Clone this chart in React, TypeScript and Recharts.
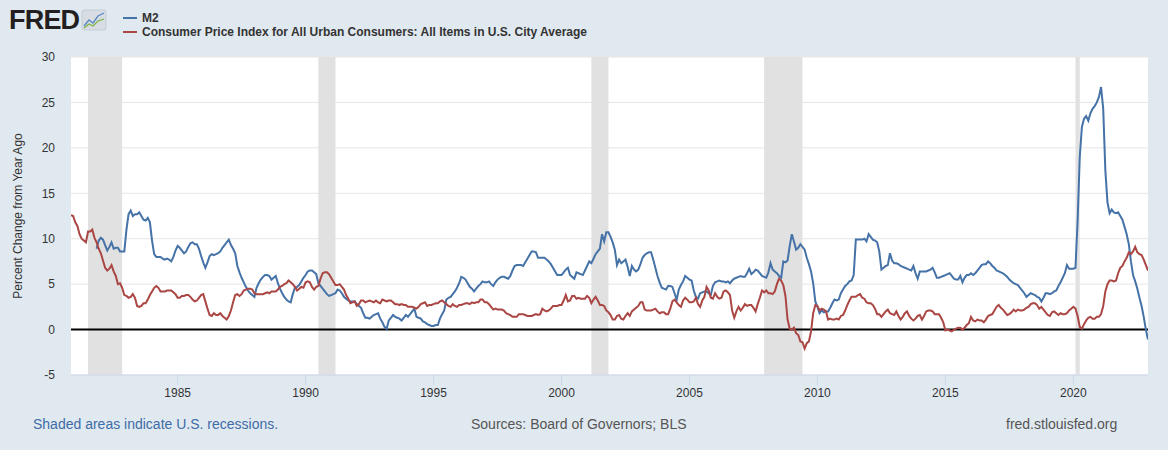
import {
  LineChart,
  Line,
  XAxis,
  YAxis,
  CartesianGrid,
  ReferenceArea,
  ReferenceLine,
  Label,
} from "recharts";

// Monthly series, first value = Nov 1980, last value = Dec 2022
const START = 1980 + 10 / 12;

// CPI, percent change from year ago
const cpiYoY: number[] = [
  12.6, 12.5, // 1980 Nov-Dec
  11.8, 11.4, 10.5, 10.0, 9.8, 9.6, 10.8, 10.8, 11.0, 10.1, 9.6, 8.9, // 1981
  8.4, 7.6, 6.8, 6.5, 6.7, 7.1, 6.4, 5.9, 5.0, 5.1, 4.6, 3.8, // 1982
  3.7, 3.5, 3.6, 3.9, 3.5, 2.6, 2.5, 2.6, 2.9, 2.9, 3.3, 3.8, // 1983
  4.2, 4.6, 4.8, 4.6, 4.2, 4.2, 4.2, 4.3, 4.3, 4.3, 4.1, 3.9, // 1984
  3.5, 3.5, 3.7, 3.7, 3.8, 3.8, 3.6, 3.3, 3.1, 3.2, 3.5, 3.8, // 1985
  3.9, 3.1, 2.3, 1.6, 1.5, 1.8, 1.6, 1.6, 1.8, 1.5, 1.3, 1.1, // 1986
  1.5, 2.1, 3.0, 3.8, 3.9, 3.7, 3.9, 4.3, 4.4, 4.5, 4.5, 4.4, // 1987
  4.0, 3.9, 3.9, 3.9, 3.9, 4.0, 4.1, 4.0, 4.2, 4.2, 4.2, 4.4, // 1988
  4.7, 4.8, 5.0, 5.1, 5.4, 5.2, 5.0, 4.7, 4.3, 4.5, 4.7, 4.6, // 1989
  5.2, 5.3, 5.2, 4.7, 4.4, 4.7, 4.8, 5.6, 6.2, 6.3, 6.3, 6.1, // 1990
  5.7, 5.3, 4.9, 4.9, 5.0, 4.7, 4.4, 3.8, 3.4, 2.9, 3.0, 3.1, // 1991
  2.6, 2.8, 3.2, 3.2, 3.0, 3.1, 3.2, 3.1, 3.0, 3.2, 3.0, 2.9, // 1992
  3.3, 3.2, 3.1, 3.2, 3.2, 3.0, 2.8, 2.8, 2.7, 2.8, 2.7, 2.7, // 1993
  2.5, 2.5, 2.5, 2.4, 2.3, 2.5, 2.8, 2.9, 3.0, 2.6, 2.7, 2.7, // 1994
  2.8, 2.9, 2.9, 3.1, 3.2, 3.0, 2.8, 2.6, 2.5, 2.8, 2.6, 2.5, // 1995
  2.7, 2.7, 2.8, 2.9, 2.9, 2.8, 3.0, 2.9, 3.0, 3.0, 3.3, 3.3, // 1996
  3.0, 3.0, 2.8, 2.5, 2.2, 2.3, 2.2, 2.2, 2.2, 2.1, 1.8, 1.7, // 1997
  1.6, 1.4, 1.4, 1.4, 1.7, 1.7, 1.7, 1.6, 1.5, 1.5, 1.5, 1.6, // 1998
  1.7, 1.6, 1.7, 2.3, 2.1, 2.0, 2.1, 2.3, 2.6, 2.6, 2.6, 2.7, // 1999
  2.7, 3.2, 3.8, 3.1, 3.2, 3.7, 3.7, 3.4, 3.5, 3.4, 3.4, 3.4, // 2000
  3.7, 3.5, 2.9, 3.3, 3.6, 3.2, 2.7, 2.7, 2.6, 2.1, 1.9, 1.6, // 2001
  1.1, 1.1, 1.5, 1.6, 1.2, 1.1, 1.5, 1.8, 1.5, 2.0, 2.2, 2.4, // 2002
  2.6, 3.0, 3.0, 2.2, 2.1, 2.1, 2.1, 2.2, 2.3, 2.0, 1.8, 1.9, // 2003
  1.9, 1.7, 1.7, 2.3, 3.1, 3.3, 3.0, 2.7, 2.5, 3.2, 3.5, 3.3, // 2004
  3.0, 3.0, 3.1, 3.5, 2.8, 2.5, 3.2, 3.6, 4.7, 4.3, 3.5, 3.4, // 2005
  4.0, 3.6, 3.4, 3.5, 4.2, 4.3, 4.1, 3.8, 2.1, 1.3, 2.0, 2.5, // 2006
  2.1, 2.4, 2.8, 2.6, 2.7, 2.7, 2.4, 2.0, 2.8, 3.5, 4.3, 4.1, // 2007
  4.3, 4.0, 4.0, 3.9, 4.2, 5.0, 5.6, 5.4, 4.9, 3.7, 1.1, 0.1, // 2008
  0.0, 0.2, -0.4, -0.6, -1.3, -1.4, -2.1, -1.5, -1.3, -0.2, 1.8, 2.7, // 2009
  2.6, 2.1, 2.3, 2.2, 2.0, 1.1, 1.2, 1.1, 1.1, 1.2, 1.1, 1.5, // 2010
  1.6, 2.1, 2.7, 3.2, 3.6, 3.6, 3.6, 3.8, 3.9, 3.5, 3.4, 3.0, // 2011
  2.9, 2.9, 2.7, 2.3, 1.7, 1.7, 1.4, 1.7, 2.0, 2.2, 1.8, 1.7, // 2012
  1.6, 2.0, 1.5, 1.1, 1.4, 1.8, 2.0, 1.5, 1.2, 1.0, 1.2, 1.5, // 2013
  1.6, 1.1, 1.5, 2.0, 2.1, 2.1, 2.0, 1.7, 1.7, 1.7, 1.3, 0.8, // 2014
  -0.1, 0.0, -0.1, -0.2, 0.0, 0.1, 0.2, 0.2, 0.0, 0.2, 0.5, 0.7, // 2015
  1.4, 1.0, 0.9, 1.1, 1.0, 1.0, 0.8, 1.1, 1.5, 1.6, 1.7, 2.1, // 2016
  2.5, 2.7, 2.4, 2.2, 1.9, 1.6, 1.7, 1.9, 2.2, 2.0, 2.2, 2.1, // 2017
  2.1, 2.2, 2.4, 2.5, 2.8, 2.9, 2.9, 2.7, 2.3, 2.5, 2.2, 1.9, // 2018
  1.6, 1.5, 1.9, 2.0, 1.8, 1.6, 1.8, 1.7, 1.7, 1.8, 2.1, 2.3, // 2019
  2.5, 2.3, 1.5, 0.3, 0.1, 0.6, 1.0, 1.3, 1.4, 1.2, 1.2, 1.4, // 2020
  1.4, 1.7, 2.6, 4.2, 5.0, 5.4, 5.4, 5.3, 5.4, 6.2, 6.8, 7.0, // 2021
  7.5, 7.9, 8.5, 8.3, 8.6, 9.1, 8.5, 8.3, 8.2, 7.7, 7.1, 6.5, // 2022
];

// M2, percent change from year ago (starts Nov 1981)
const m2YoY: (number | null)[] = [
  null, null, // 1980 Nov-Dec
  null, null, null, null, null, null, null, null, null, null, 8.9, 9.8, // 1981
  10.1, 9.9, 9.3, 8.7, 9.1, 9.6, 8.9, 9.0, 9.0, 8.6, 8.6, 8.6, // 1982
  11.0, 12.7, 13.1, 12.5, 12.7, 12.7, 12.9, 12.5, 12.1, 12.0, 12.3, 11.8, // 1983
  9.8, 8.3, 8.0, 8.0, 8.0, 7.8, 7.7, 7.8, 7.7, 7.5, 8.0, 8.7, // 1984
  9.2, 9.0, 8.7, 8.4, 8.6, 9.1, 9.5, 9.6, 9.4, 9.4, 8.9, 8.1, // 1985
  7.4, 6.8, 7.4, 8.1, 8.3, 8.2, 8.3, 8.4, 8.6, 9.0, 9.3, 9.6, // 1986
  9.9, 9.3, 8.9, 8.4, 7.0, 6.3, 5.7, 5.2, 4.7, 4.3, 4.0, 3.8, // 1987
  3.6, 4.6, 5.1, 5.5, 5.8, 6.0, 6.0, 5.9, 5.5, 5.7, 5.9, 5.1, // 1988
  4.5, 4.0, 3.6, 3.3, 3.1, 3.0, 3.9, 4.6, 4.7, 4.9, 5.3, 5.7, // 1989
  6.0, 6.4, 6.5, 6.5, 6.3, 6.1, 5.1, 4.8, 4.5, 4.2, 3.9, 3.7, // 1990
  3.8, 3.9, 4.0, 4.4, 4.3, 4.0, 3.6, 3.4, 3.2, 3.1, 3.1, 3.1, // 1991
  2.8, 2.6, 2.4, 1.8, 1.3, 1.3, 1.2, 1.4, 1.6, 1.7, 1.8, 1.2, // 1992
  0.8, 0.3, 0.1, 1.0, 1.3, 1.6, 1.4, 1.3, 1.2, 1.0, 1.3, 1.6, // 1993
  1.4, 1.7, 2.0, 2.3, 1.4, 1.3, 1.2, 0.9, 0.8, 0.6, 0.5, 0.4, // 1994
  0.4, 0.5, 0.5, 1.2, 1.7, 2.1, 3.3, 3.5, 3.6, 3.9, 4.2, 4.6, // 1995
  5.1, 5.8, 5.7, 5.5, 5.1, 4.7, 4.5, 4.2, 4.5, 4.8, 5.0, 5.3, // 1996
  5.2, 5.2, 5.3, 5.0, 4.8, 5.2, 5.5, 5.7, 5.8, 5.8, 5.7, 5.6, // 1997
  5.9, 6.5, 7.0, 7.1, 7.1, 7.1, 7.0, 7.4, 7.8, 8.2, 8.6, 8.6, // 1998
  8.5, 7.9, 7.9, 7.9, 7.9, 7.7, 7.5, 7.2, 6.8, 6.4, 6.0, 6.0, // 1999
  6.0, 6.3, 6.6, 6.8, 6.0, 5.8, 5.6, 6.3, 6.2, 6.1, 6.0, 6.5, // 2000
  7.0, 7.5, 7.3, 7.8, 8.3, 8.6, 8.9, 10.5, 9.7, 10.7, 10.7, 10.2, // 2001
  9.6, 8.8, 7.1, 7.7, 7.3, 7.5, 7.7, 6.9, 5.9, 7.0, 6.6, 6.4, // 2002
  6.6, 7.2, 7.9, 8.2, 8.4, 8.5, 8.5, 7.7, 6.8, 5.9, 5.2, 4.6, // 2003
  4.5, 4.4, 4.8, 4.8, 4.7, 4.0, 3.3, 4.4, 4.9, 5.3, 5.9, 5.7, // 2004
  5.5, 5.4, 4.3, 3.6, 3.4, 4.0, 4.1, 4.2, 4.2, 4.0, 3.8, 4.8, // 2005
  5.2, 5.3, 5.4, 5.3, 5.3, 5.2, 5.3, 5.1, 5.4, 5.6, 5.7, 5.8, // 2006
  5.9, 5.8, 5.8, 6.2, 6.7, 6.1, 6.3, 6.6, 6.5, 6.2, 5.9, 5.8, // 2007
  5.7, 6.3, 7.3, 6.6, 6.4, 6.2, 5.9, 5.7, 7.5, 7.4, 7.6, 9.2, // 2008
  10.5, 9.7, 8.8, 9.0, 9.4, 9.1, 8.8, 7.9, 7.2, 6.4, 5.1, 3.1, // 2009
  2.5, 1.8, 2.1, 1.9, 2.0, 2.0, 2.4, 2.9, 3.3, 3.2, 3.3, 4.0, // 2010
  4.4, 4.8, 5.0, 5.3, 5.4, 6.0, 9.9, 9.9, 9.9, 9.9, 10.0, 9.7, // 2011
  10.5, 10.2, 9.9, 9.8, 9.6, 8.6, 6.6, 6.8, 7.0, 7.1, 8.4, 7.6, // 2012
  7.3, 7.3, 7.2, 7.0, 6.9, 6.8, 6.7, 6.6, 6.5, 7.0, 6.2, 5.6, // 2013
  6.4, 6.4, 6.4, 6.4, 6.5, 6.6, 6.8, 6.3, 5.7, 5.7, 5.8, 5.9, // 2014
  6.0, 6.1, 6.2, 5.9, 5.6, 5.5, 5.5, 5.9, 5.2, 5.7, 6.0, 6.0, // 2015
  6.2, 6.0, 6.2, 6.5, 6.8, 7.1, 7.2, 7.2, 7.5, 7.3, 7.0, 6.8, // 2016
  6.5, 6.4, 6.3, 6.2, 6.0, 5.8, 5.5, 5.3, 5.1, 5.0, 4.9, 4.6, // 2017
  4.3, 4.0, 3.6, 3.8, 4.0, 3.9, 3.8, 3.6, 3.5, 3.1, 3.5, 4.0, // 2018
  4.0, 3.9, 4.0, 4.2, 4.3, 4.8, 5.2, 5.7, 6.2, 7.1, 6.7, 6.7, // 2019
  6.7, 6.8, 12.0, 19.0, 22.3, 23.2, 23.5, 23.0, 23.8, 24.3, 24.6, 25.0, // 2020
  25.6, 26.7, 24.3, 17.5, 14.0, 12.8, 13.2, 12.9, 12.8, 12.9, 12.5, 12.1, // 2021
  11.3, 10.5, 9.4, 7.5, 6.0, 5.3, 4.5, 3.5, 2.6, 1.4, 0.0, -1.1, // 2022
];

// NBER recessions (peak month start, trough month)
const recessions: [number, number][] = [
  [1981 + 6 / 12, 1982 + 10 / 12],
  [1990 + 6 / 12, 1991 + 2 / 12],
  [2001 + 2 / 12, 2001 + 10 / 12],
  [2007 + 11 / 12, 2009 + 5 / 12],
  [2020 + 1 / 12, 2020 + 3 / 12],
];

const yearTicks = [1985, 1990, 1995, 2000, 2005, 2010, 2015, 2020];
const valueTicks = [-5, 0, 5, 10, 15, 20, 25, 30];

const FONT = '"Liberation Sans", Arial, Helvetica, sans-serif';
const BLUE = "#4572a7";
const RED = "#aa4643";

const data = cpiYoY.map((c, i) => ({
  t: START + i / 12,
  cpi: c,
  m2: m2YoY[i],
}));

function FredLogo() {
  return (
    <div style={{ position: "absolute", left: 9, top: 6, display: "flex", alignItems: "center" }}>
      <span
        style={{
          fontFamily: FONT,
          fontWeight: 900,
          fontSize: 27,
          letterSpacing: -0.8,
          color: "#231f20",
          lineHeight: "28px",
        }}
      >
        FRED
      </span>
      <svg width="26" height="22" style={{ marginLeft: 2 }}>
        <rect x="1" y="1" width="24" height="20" rx="2" fill="#d7dde3" stroke="#c4ccd4" />
        <polyline points="3,17 8,11 12,14 17,7 23,4" fill="none" stroke="#5b87c5" strokeWidth="1.3" />
        <polyline points="3,19 8,15 12,17 17,12 23,10" fill="none" stroke="#7cb342" strokeWidth="1.3" />
      </svg>
    </div>
  );
}

function SeriesLegend() {
  const items = [
    { color: BLUE, name: "M2" },
    { color: RED, name: "Consumer Price Index for All Urban Consumers: All Items in U.S. City Average" },
  ];
  return (
    <div style={{ position: "absolute", left: 123, top: 11 }}>
      {items.map((it) => (
        <div key={it.name} style={{ display: "flex", alignItems: "center", height: 14 }}>
          <span style={{ display: "inline-block", width: 14, height: 2, background: it.color, marginRight: 5 }} />
          <span style={{ fontFamily: FONT, fontSize: 12, fontWeight: "bold", color: "#333" }}>{it.name}</span>
        </div>
      ))}
    </div>
  );
}

export default function App() {
  return (
    <div
      style={{
        position: "absolute",
        left: 0,
        top: 0,
        width: 1168,
        height: 450,
        background: "#e1e9f0",
        fontFamily: FONT,
        overflow: "hidden",
      }}
    >
      <FredLogo />
      <SeriesLegend />
      <LineChart
        width={1168}
        height={450}
        data={data}
        margin={{ top: 57, right: 20, bottom: 0, left: 0 }}
        style={{ fontFamily: FONT }}
      >
        <CartesianGrid vertical={false} stroke="#e6e6e6" fill="#ffffff" fillOpacity={1} />
        {recessions.map(([a, b]) => (
          <ReferenceArea key={a} x1={a} x2={b} fill="#e1e1e1" fillOpacity={1} strokeOpacity={0} ifOverflow="hidden" />
        ))}
        <XAxis
          type="number"
          dataKey="t"
          domain={[START, 2022 + 11 / 12]}
          ticks={yearTicks}
          allowDataOverflow
          height={75}
          tick={{ fontSize: 12, fill: "#333" }}
          tickLine={{ stroke: "#ccd6eb" }}
          tickSize={10}
          tickMargin={3}
          axisLine={{ stroke: "#ccd6eb" }}
        />
        <YAxis
          type="number"
          domain={[-5, 30]}
          ticks={valueTicks}
          width={71}
          tick={{ fontSize: 12, fill: "#333" }}
          tickLine={false}
          axisLine={false}
          tickMargin={10}
        >
          <Label
            content={({ viewBox }: any) => {
              const cy = viewBox.y + viewBox.height / 2;
              return (
                <text
                  x={18}
                  y={cy}
                  transform={`rotate(-90, 18, ${cy})`}
                  textAnchor="middle"
                  dominantBaseline="central"
                  fontSize={12}
                  fill="#333"
                  fontFamily={FONT}
                >
                  Percent Change from Year Ago
                </text>
              );
            }}
          />
        </YAxis>
        <ReferenceLine y={0} stroke="#000" strokeWidth={2} />
        <Line
          type="linear"
          dataKey="m2"
          stroke={BLUE}
          strokeWidth={2}
          dot={false}
          isAnimationActive={false}
        />
        <Line
          type="linear"
          dataKey="cpi"
          stroke={RED}
          strokeWidth={2}
          dot={false}
          isAnimationActive={false}
        />
      </LineChart>
      <div style={{ position: "absolute", left: 33, top: 416, fontSize: 14, color: "#3e6ca6" }}>
        Shaded areas indicate U.S. recessions.
      </div>
      <div style={{ position: "absolute", left: 471, top: 416, fontSize: 14, color: "#555" }}>
        Sources: Board of Governors; BLS
      </div>
      <div style={{ position: "absolute", left: 1006, top: 416, fontSize: 14, color: "#555" }}>
        fred.stlouisfed.org
      </div>
    </div>
  );
}
